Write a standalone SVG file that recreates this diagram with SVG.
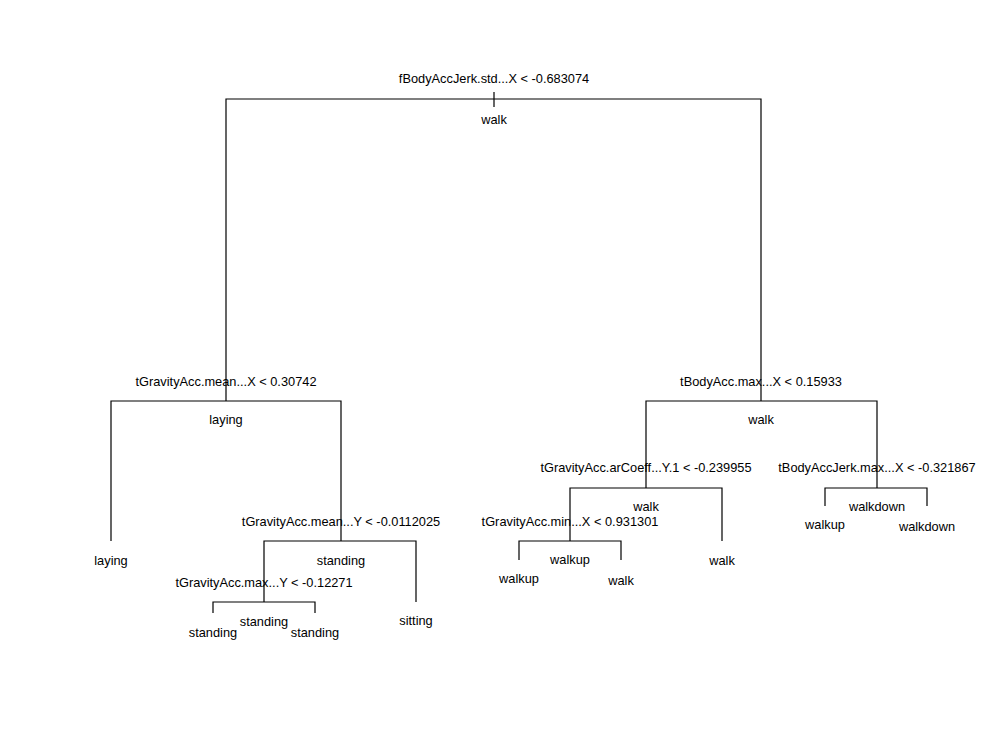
<svg xmlns="http://www.w3.org/2000/svg" width="1000" height="732" viewBox="0 0 1000 732">
<style>
.e{stroke:#000;stroke-width:1.2;fill:none}
text{font-family:"Liberation Sans",Arial,sans-serif;font-size:12.8px;fill:#000;text-anchor:middle}
</style>
<rect width="1000" height="732" fill="#fff"/>
<g id="connectors">
<path class="e" d="M494 92V107M226 401V99H761V401"/>
<path class="e" d="M111 541V401H341V541"/>
<path class="e" d="M264 602V541H416V602"/>
<path class="e" d="M213 613V602H315V613"/>
<path class="e" d="M646 488V401H877V488"/>
<path class="e" d="M570 541V488H722V541"/>
<path class="e" d="M519 560V541H621V560"/>
<path class="e" d="M825 506V488H927V506"/>
</g>
<g id="n1"><text x="494" y="83">fBodyAccJerk.std...X &lt; -0.683074</text><text x="494" y="124">walk</text></g>
<g id="n2"><text x="226" y="386">tGravityAcc.mean...X &lt; 0.30742</text><text x="226" y="424">laying</text></g>
<g id="n4"><text x="111" y="565">laying</text></g>
<g id="n5"><text x="341" y="526">tGravityAcc.mean...Y &lt; -0.0112025</text><text x="341" y="565">standing</text></g>
<g id="n10"><text x="264" y="587">tGravityAcc.max...Y &lt; -0.12271</text><text x="264" y="626">standing</text></g>
<g id="n20"><text x="213" y="637">standing</text></g>
<g id="n21"><text x="315" y="637">standing</text></g>
<g id="n11"><text x="416" y="625">sitting</text></g>
<g id="n3"><text x="761" y="386">tBodyAcc.max...X &lt; 0.15933</text><text x="761" y="424">walk</text></g>
<g id="n6"><text x="646" y="472">tGravityAcc.arCoeff...Y.1 &lt; -0.239955</text><text x="646" y="511">walk</text></g>
<g id="n12"><text x="570" y="526">tGravityAcc.min...X &lt; 0.931301</text><text x="570" y="564">walkup</text></g>
<g id="n24"><text x="519" y="583">walkup</text></g>
<g id="n25"><text x="621" y="585">walk</text></g>
<g id="n13"><text x="722" y="565">walk</text></g>
<g id="n7"><text x="877" y="472">tBodyAccJerk.max...X &lt; -0.321867</text><text x="877" y="511">walkdown</text></g>
<g id="n14"><text x="825" y="529">walkup</text></g>
<g id="n15"><text x="927" y="531">walkdown</text></g>
</svg>
